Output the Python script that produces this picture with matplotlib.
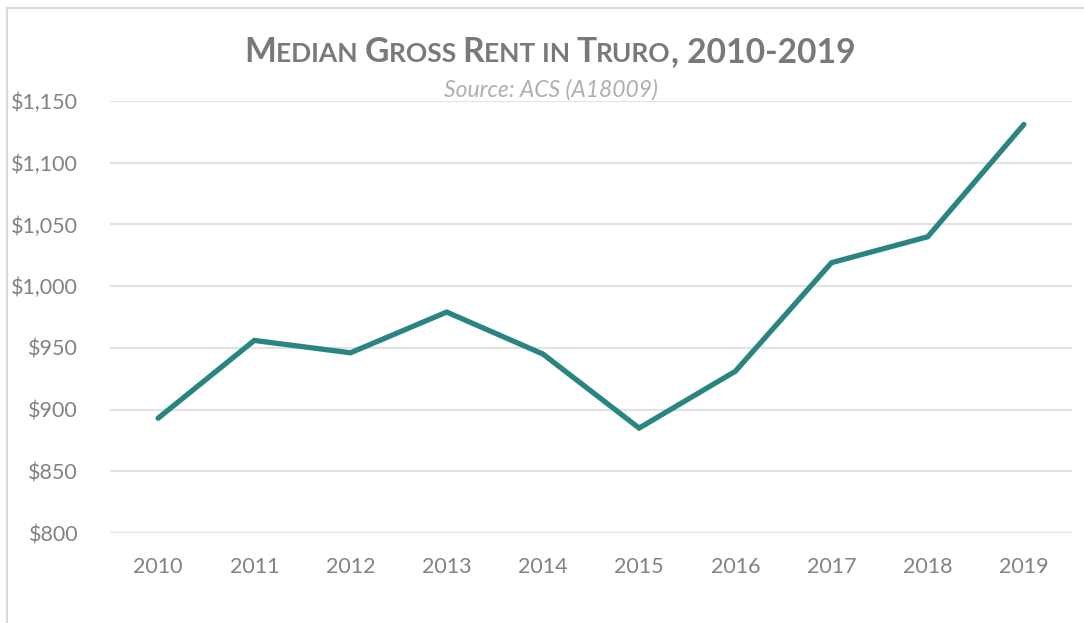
import matplotlib.pyplot as plt
from matplotlib.lines import Line2D
from matplotlib.ticker import FuncFormatter

# ── Data ─────────────────────────────────────────────────────
years = ['2010', '2011', '2012', '2013', '2014', '2015', '2016', '2017', '2018', '2019']
rent = [893, 956, 946, 979, 945, 885, 931, 1019, 1040, 1131]
y_ticks = [800, 850, 900, 950, 1000, 1050, 1100, 1150]

W, H = 1084, 623
TEAL = '#2a8582'
GREY = '#848084'
GRID = '#e2e2e2'

plt.rcParams['font.family'] = ['Lato', 'DejaVu Sans']

fig = plt.figure(figsize=(W / 100, H / 100), dpi=100)
ax = fig.add_axes([110 / W, 1 - 533 / H, (1072 - 110) / W, (533 - 101) / H])

x = range(len(years))
ax.plot(x, rent, color=TEAL, lw=3.8, solid_capstyle='round', solid_joinstyle='miter', zorder=3)

ax.set_xlim(-0.5, len(years) - 0.5)
ax.set_ylim(y_ticks[0], y_ticks[-1])
ax.set_yticks(y_ticks)
ax.yaxis.set_major_formatter(FuncFormatter(lambda v, p: f'${v:,.0f}'))
ax.set_xticks(list(x))
ax.set_xticklabels(years)
ax.tick_params(axis='both', length=0, labelsize=15.5, labelcolor=GREY)
ax.tick_params(axis='y', pad=23)
ax.tick_params(axis='x', pad=17)
ax.grid(axis='y', color=GRID, lw=1.5)
ax.set_axisbelow(True)
for s in ax.spines.values():
    s.set_visible(False)

# chart-area border (only top and left edges are in frame)
fig.add_artist(Line2D([7 / W, 7 / W], [0, 1 - 8 / H], color='#dcdcdc', lw=1.6))
fig.add_artist(Line2D([7 / W, 1], [1 - 8 / H, 1 - 8 / H], color='#dcdcdc', lw=1.6))

# ── Title in small caps ──────────────────────────────────────
big, small = 24.2, 19
parts = [('M', big), ('EDIAN ', small), ('G', big), ('ROSS ', small), ('R', big), ('ENT ', small),
         ('IN ', small), ('T', big), ('RURO', small), (', 2010-2019', big)]
renderer = fig.canvas.get_renderer()
texts = []
xpos = 0
base_y = 1 - 62 / H
for s, size in parts:
    t = fig.text(xpos / W, base_y, s, fontsize=size, fontweight='bold', color='#7b777b',
                 va='baseline', ha='left')
    texts.append(t)
    xpos += t.get_window_extent(renderer).width
xpos = 550 - xpos / 2
for t in texts:
    t.set_x(xpos / W)
    xpos += t.get_window_extent(renderer).width

fig.text(551 / W, 1 - 97 / H, 'Source: ACS (A18009)', fontsize=16.5, style='italic',
         fontweight='normal', color='#b0aeb0', ha='center', va='baseline')

fig.savefig('out.png', dpi=100, facecolor='white')
